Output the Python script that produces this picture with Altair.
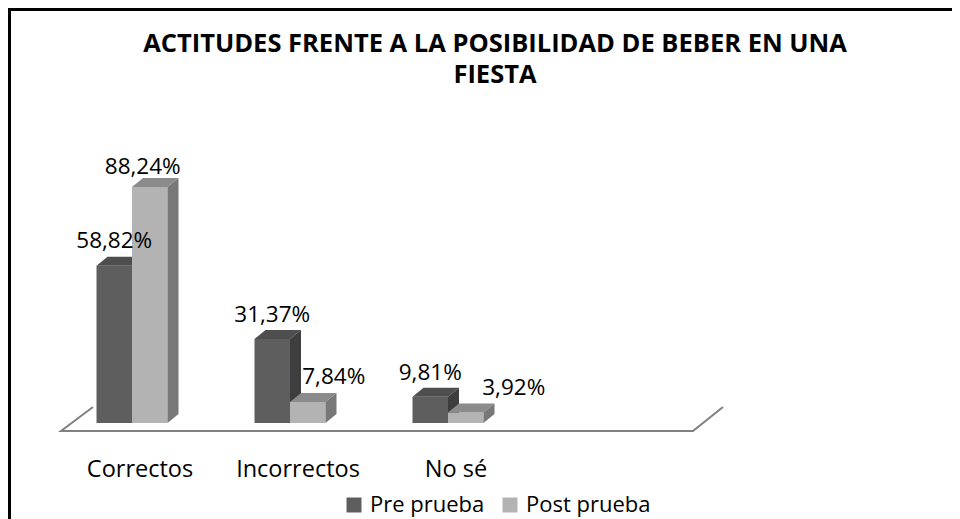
import altair as alt
import pandas as pd

# ---------------- data ----------------
categories = ["Correctos", "Incorrectos", "No sé"]
series_names = ["Pre prueba", "Post prueba"]
pre_values = [58.82, 31.37, 9.81]
post_values = [88.24, 7.84, 3.92]
title_lines = ["ACTITUDES FRENTE A LA POSIBILIDAD DE BEBER EN UNA", "FIESTA"]

# ---------------- layout / style ----------------
W, H = 944, 511
U = 158.0            # px per category slot
PX_PER_PCT = 2.675   # px per percent
X0_PX = 53.0         # pixel of the left edge of slot 0
Y0_PX = 415.0        # pixel of 0 %
N_SLOTS = 4
FONT = "Open Sans"

x_dom = [-0.5 - X0_PX / U, -0.5 + (W - X0_PX) / U]
y_dom = [-(H - Y0_PX) / PX_PER_PCT, Y0_PX / PX_PER_PCT]
xs = alt.Scale(domain=x_dom, nice=False, zero=False)
ys = alt.Scale(domain=y_dom, nice=False, zero=False)

pair_shift = -8 / U
bar_w = 35.5 / U
ddx = 11 / U
ddy = 9 / PX_PER_PCT

colors = {
    "Pre prueba": {"front": "#5e5e5e", "top": "#4e4e4e", "side": "#3e3e3e"},
    "Post prueba": {"front": "#b3b3b3", "top": "#8b8b8b", "side": "#787878"},
}
# label nudges (px) relative to the centre of each bar's front top edge
label_dx = {"Pre prueba": [0, 0, 0], "Post prueba": [-7, 26, 48]}
label_dy = {"Pre prueba": [-25, -24, -24], "Post prueba": [-20, -25, -25]}


def fmt(v):
    return f"{v:.2f}".replace(".", ",") + "%"


def series_frames(name, values, k):
    fronts, tops, sides, labels = [], [], [], []
    for i, (cat, v) in enumerate(zip(categories, values)):
        c = i + pair_shift
        x0 = c - bar_w + k * bar_w
        x1 = x0 + bar_w
        bid = f"{name}-{cat}"
        fronts.append({"bar": bid, "series": name, "x0": x0, "x1": x1, "y0": 0.0, "y1": v})
        tops.append({"bar": bid, "y": v, "xa": x0, "xb": x1})
        tops.append({"bar": bid, "y": v + ddy, "xa": x0 + ddx, "xb": x1 + ddx})
        sides.append({"bar": bid, "x": x1, "ya": 0.0, "yb": v})
        sides.append({"bar": bid, "x": x1 + ddx, "ya": ddy, "yb": v + ddy})
        labels.append({
            "lx": (x0 + x1) / 2 + label_dx[name][i] / U,
            "ly": v - label_dy[name][i] / PX_PER_PCT,
            "label": fmt(v),
        })
    return (pd.DataFrame(fronts), pd.DataFrame(tops),
            pd.DataFrame(sides), pd.DataFrame(labels))


color_scale = alt.Scale(domain=series_names,
                        range=[colors[s]["front"] for s in series_names])
legend = alt.Legend(
    orient="none", legendX=335, legendY=486, direction="horizontal",
    title=None, symbolType="square", symbolSize=225, symbolStrokeWidth=0,
    symbolOpacity=1, labelFont=FONT, labelFontSize=22, labelColor="#000000",
    columnPadding=14, labelOffset=5, padding=0,
)

layers = []

# floor
fl_back = 6.0
fl_front = -3.0
floor_df = pd.DataFrame({
    "x": [-0.5 + 32 / U, -0.5, N_SLOTS - 0.5, N_SLOTS - 0.5 + 30 / U],
    "y": [fl_back, fl_front, fl_front, fl_back],
    "o": [0, 1, 2, 3],
})
layers.append(
    alt.Chart(floor_df).mark_line(color="#808080", strokeWidth=2).encode(
        x=alt.X("x:Q", scale=xs, axis=None),
        y=alt.Y("y:Q", scale=ys, axis=None),
        order="o:Q",
    )
)

label_frames = []
for k, (name, vals) in enumerate(zip(series_names, [pre_values, post_values])):
    fr, tp, sd, lb = series_frames(name, vals, k)
    label_frames.append(lb)
    layers.append(
        alt.Chart(fr).mark_rect(stroke=None).encode(
            x=alt.X("x0:Q", scale=xs, axis=None), x2="x1:Q",
            y=alt.Y("y0:Q", scale=ys, axis=None), y2="y1:Q",
            color=alt.Color("series:N", scale=color_scale, legend=legend),
        )
    )
    layers.append(
        alt.Chart(tp).mark_area(orient="horizontal", color=colors[name]["top"]).encode(
            y=alt.Y("y:Q", scale=ys, axis=None),
            x=alt.X("xa:Q", scale=xs, axis=None), x2="xb:Q",
            detail="bar:N",
        )
    )
    layers.append(
        alt.Chart(sd).mark_area(orient="vertical", color=colors[name]["side"]).encode(
            x=alt.X("x:Q", scale=xs, axis=None),
            y=alt.Y("ya:Q", scale=ys, axis=None), y2="yb:Q",
            detail="bar:N",
        )
    )

labels_df = pd.concat(label_frames, ignore_index=True)
layers.append(
    alt.Chart(labels_df).mark_text(font=FONT, fontSize=22.5, color="#000000",
                                   align="center", baseline="middle").encode(
        x=alt.X("lx:Q", scale=xs, axis=None),
        y=alt.Y("ly:Q", scale=ys, axis=None),
        text="label:N",
    )
)

cat_df = pd.DataFrame({"slot": list(range(len(categories))), "cat": categories})
layers.append(
    alt.Chart(cat_df).mark_text(font=FONT, fontSize=23.5, color="#000000",
                                align="center", baseline="middle").encode(
        x=alt.X("slot:Q", scale=xs, axis=None),
        y=alt.value(462),
        text="cat:N",
    )
)

title_df = pd.DataFrame({"t": ["\n".join(title_lines)]})
layers.append(
    alt.Chart(title_df).mark_text(font=FONT, fontSize=25.5, fontWeight="bold",
                                  color="#000000", align="center", baseline="middle",
                                  lineBreak="\n", lineHeight=31).encode(
        x=alt.value(487), y=alt.value(36), text="t:N",
    )
)

dummy = pd.DataFrame({"a": [0]})
layers.append(
    alt.Chart(dummy).mark_rule(color="#000000", strokeWidth=4).encode(
        x=alt.value(1), y=alt.value(0), y2=alt.value(H)
    )
)
layers.append(
    alt.Chart(dummy).mark_rule(color="#000000", strokeWidth=4).encode(
        x=alt.value(0), x2=alt.value(W), y=alt.value(1)
    )
)

chart = alt.layer(*layers).properties(
    width=W, height=H, padding=0,
    autosize=alt.AutoSizeParams(type="none"),
    background="#ffffff",
).configure_view(stroke=None)

chart.save("out.html", embed_options={"renderer": "svg", "actions": False})
